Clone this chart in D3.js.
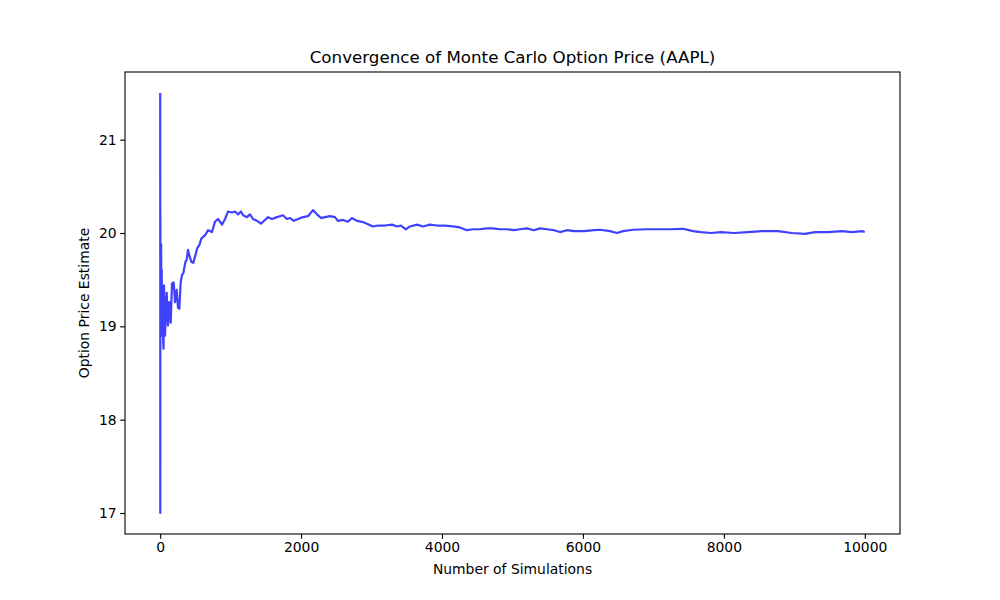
<!DOCTYPE html>
<html>
<head>
<meta charset="utf-8">
<script src="https://cdn.jsdelivr.net/npm/d3@7"></script>
<style>
  html, body { margin: 0; padding: 0; background: #fff; }
  svg { display: block; font-family: "DejaVu Sans", sans-serif; }
</style>
</head>
<body>
<svg id="chart" width="1000" height="600"></svg>
<script>
// Number of simulations (x) and running price estimate (y)
const simulations = [1, 2, 3, 5, 7, 10, 14, 18, 22, 28, 35, 42, 48, 55, 69, 93, 111, 130, 150, 168, 192, 211, 235, 253, 272, 291, 310, 329, 358, 376, 395, 414, 443, 471, 499, 528, 556, 584, 641, 679, 736, 778, 821, 879, 921, 963, 1020, 1062, 1105, 1147, 1176, 1233, 1275, 1318, 1375, 1431, 1488, 1530, 1587, 1658, 1743, 1800, 1843, 1899, 1956, 2027, 2098, 2169, 2226, 2283, 2339, 2410, 2481, 2523, 2594, 2665, 2722, 2793, 2864, 2935, 3020, 3091, 3190, 3290, 3361, 3417, 3488, 3545, 3644, 3730, 3829, 3928, 4041, 4155, 4254, 4354, 4439, 4538, 4638, 4723, 4822, 4921, 5021, 5106, 5206, 5305, 5390, 5490, 5589, 5674, 5774, 5873, 6015, 6157, 6242, 6384, 6483, 6569, 6710, 6909, 7094, 7235, 7420, 7562, 7675, 7817, 7959, 8144, 8342, 8541, 8768, 8967, 9151, 9293, 9477, 9676, 9819, 9960, 10000];
const priceEstimates = [21.5, 17.0, 20.2, 19.0, 19.8, 19.2, 19.88, 18.9, 19.6, 19.0, 19.4, 18.85, 18.76, 19.44, 18.9, 19.36, 19.01, 19.26, 19.04, 19.46, 19.47, 19.26, 19.39, 19.2, 19.19, 19.47, 19.55, 19.57, 19.69, 19.71, 19.82, 19.76, 19.69, 19.68, 19.76, 19.84, 19.87, 19.94, 19.98, 20.03, 20.01, 20.12, 20.15, 20.09, 20.15, 20.23, 20.22, 20.23, 20.2, 20.23, 20.19, 20.17, 20.2, 20.15, 20.13, 20.1, 20.14, 20.17, 20.15, 20.17, 20.19, 20.15, 20.16, 20.13, 20.15, 20.17, 20.18, 20.245, 20.2, 20.16, 20.17, 20.18, 20.17, 20.13, 20.14, 20.12, 20.16, 20.13, 20.12, 20.1, 20.07, 20.08, 20.08, 20.09, 20.07, 20.08, 20.04, 20.07, 20.09, 20.07, 20.09, 20.08, 20.08, 20.07, 20.06, 20.03, 20.04, 20.04, 20.05, 20.05, 20.04, 20.04, 20.03, 20.04, 20.05, 20.03, 20.05, 20.04, 20.03, 20.01, 20.03, 20.02, 20.02, 20.03, 20.035, 20.02, 20.0, 20.02, 20.035, 20.04, 20.04, 20.04, 20.045, 20.02, 20.01, 20.0, 20.01, 20.0, 20.01, 20.02, 20.02, 20.0, 19.99, 20.01, 20.01, 20.02, 20.01, 20.02, 20.01];
const xTicks = [0, 2000, 4000, 6000, 8000, 10000];
const yTicks = [17, 18, 19, 20, 21];
const titleText = "Convergence of Monte Carlo Option Price (AAPL)";
const xLabelText = "Number of Simulations";
const yLabelText = "Option Price Estimate";

(function () {
const data = simulations.map((s, i) => ({ x: s, y: priceEstimates[i] }));

const mLeft = 125, mRight = 900, mTop = 72, mBottom = 534;
const svg = d3.select("#chart");

const xMin = d3.min(simulations), xMax = d3.max(simulations);
const xPad = (xMax - xMin) * 0.05;
const yMin = d3.min(priceEstimates), yMax = d3.max(priceEstimates);
const yPad = (yMax - yMin) * 0.05;

const x = d3.scaleLinear().domain([xMin - xPad, xMax + xPad]).range([mLeft, mRight]);
const y = d3.scaleLinear().domain([yMin - yPad, yMax + yPad]).range([mBottom, mTop]);

const line = d3.line().x(d => x(d.x)).y(d => y(d.y));

svg.append("defs").append("clipPath").attr("id", "clip")
  .append("rect").attr("x", mLeft).attr("y", mTop).attr("width", mRight - mLeft).attr("height", mBottom - mTop);

svg.append("path")
  .datum(data)
  .attr("clip-path", "url(#clip)")
  .attr("d", line)
  .attr("fill", "none")
  .attr("stroke", "rgb(0,0,255)")
  .attr("stroke-opacity", 0.75)
  .attr("stroke-width", 2.2)
  .attr("stroke-linejoin", "round")
  .attr("stroke-linecap", "butt");

const xAxis = d3.axisBottom(x).tickValues(xTicks).tickFormat(d3.format("d")).tickSize(4.86).tickPadding(3.5);
const yAxis = d3.axisLeft(y).tickValues(yTicks).tickFormat(d3.format("d")).tickSize(4.86).tickPadding(3.5);

const gx = svg.append("g").attr("transform", `translate(0,${mBottom})`).call(xAxis);
const gy = svg.append("g").attr("transform", `translate(${mLeft},0)`).call(yAxis);
[gx, gy].forEach(g => {
  g.select(".domain").remove();
  g.selectAll(".tick line").attr("stroke", "#000").attr("stroke-width", 1.1);
  g.selectAll(".tick text").attr("fill", "#000").style("font-size", "13.9px").style("font-family", "DejaVu Sans");
});

svg.append("rect")
  .attr("x", mLeft).attr("y", mTop).attr("width", mRight - mLeft).attr("height", mBottom - mTop)
  .attr("fill", "none").attr("stroke", "#000").attr("stroke-width", 1.1);

svg.append("text")
  .attr("x", (mLeft + mRight) / 2).attr("y", 63)
  .attr("text-anchor", "middle")
  .style("font-size", "16.7px")
  .text(titleText);

svg.append("text")
  .attr("x", (mLeft + mRight) / 2).attr("y", 574)
  .attr("text-anchor", "middle")
  .style("font-size", "13.9px")
  .text(xLabelText);

svg.append("text")
  .attr("transform", `translate(89,${(mTop + mBottom) / 2}) rotate(-90)`)
  .attr("text-anchor", "middle")
  .style("font-size", "13.9px")
  .text(yLabelText);
})();
</script>
</body>
</html>
